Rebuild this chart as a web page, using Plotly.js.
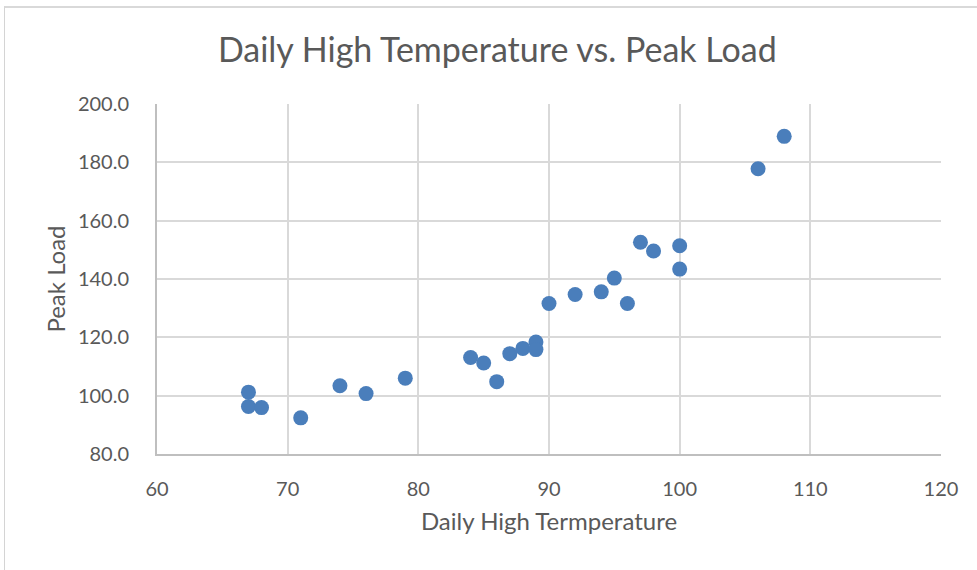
<!DOCTYPE html>
<html>
<head>
<meta charset="utf-8">
<script src="https://cdn.plot.ly/plotly-3.0.1.min.js"></script>
<style>
  html, body { margin:0; padding:0; background:#fff; width:977px; height:570px; overflow:hidden; }
  #chart { position:absolute; left:0; top:0; width:977px; height:570px; }
  #frame { position:absolute; left:4px; top:6px; width:990px; height:600px;
           border-left:1px solid #d4d4d4; border-top:2px solid #d9d9d9; pointer-events:none; }
</style>
</head>
<body>
<div id="chart"></div>
<div id="frame"></div>
<script>
const temperature = [67, 67, 68, 71, 74, 76, 79, 84, 85, 86, 87, 88, 89, 89, 90, 92, 94, 95, 96, 97, 98, 100, 100, 106, 108];
const peakLoad = [101.2, 96.3, 95.9, 92.4, 103.4, 100.7, 106.0, 113.1, 111.2, 104.8, 114.4, 116.2, 118.4, 115.8, 131.6, 134.7, 135.6, 140.3, 131.6, 152.6, 149.6, 151.4, 143.4, 177.8, 188.9];
const xTicks = [60, 70, 80, 90, 100, 110, 120];
const yTicks = [80, 100, 120, 140, 160, 180, 200];

const font = 'Lato, "Open Sans", sans-serif';
const grey = '#595959';

const trace = {
  type: 'scatter',
  mode: 'markers',
  x: temperature,
  y: peakLoad,
  marker: { color: '#4a7ebb', size: 15, line: { width: 0 } },
  hoverinfo: 'x+y'
};

const layout = {
  width: 977, height: 570,
  margin: { l: 157, r: 36, t: 104, b: 116 },
  paper_bgcolor: 'rgba(0,0,0,0)',
  plot_bgcolor: '#ffffff',
  showlegend: false,
  font: { family: font, color: grey },
  title: {
    text: 'Daily High Temperature vs. Peak Load',
    font: { family: font, size: 34, color: grey },
    x: 0.509, xanchor: 'center',
    y: 0.912, yanchor: 'middle'
  },
  xaxis: {
    range: [60, 120],
    tickvals: xTicks,
    ticktext: xTicks.map(String),
    showgrid: true, gridcolor: '#d9d9d9', gridwidth: 2,
    showline: true, linecolor: '#bfbfbf', linewidth: 2,
    zeroline: false, ticks: '',
    ticklabelstandoff: 16,
    tickfont: { family: font, size: 20, color: grey },
    title: { text: 'Daily High Termperature', font: { family: font, size: 24, color: grey }, standoff: 14 },
    fixedrange: true
  },
  yaxis: {
    range: [80, 200],
    tickvals: yTicks,
    ticktext: yTicks.map(v => v.toFixed(1)),
    showgrid: true, gridcolor: '#d9d9d9', gridwidth: 2,
    showline: true, linecolor: '#bfbfbf', linewidth: 2,
    zeroline: false, ticks: '',
    ticklabelstandoff: 22,
    tickfont: { family: font, size: 20, color: grey },
    title: { text: 'Peak Load', font: { family: font, size: 24, color: grey }, standoff: 5 },
    fixedrange: true
  }
};

Plotly.newPlot('chart', [trace], layout, { displayModeBar: false, staticPlot: true });
</script>
</body>
</html>
